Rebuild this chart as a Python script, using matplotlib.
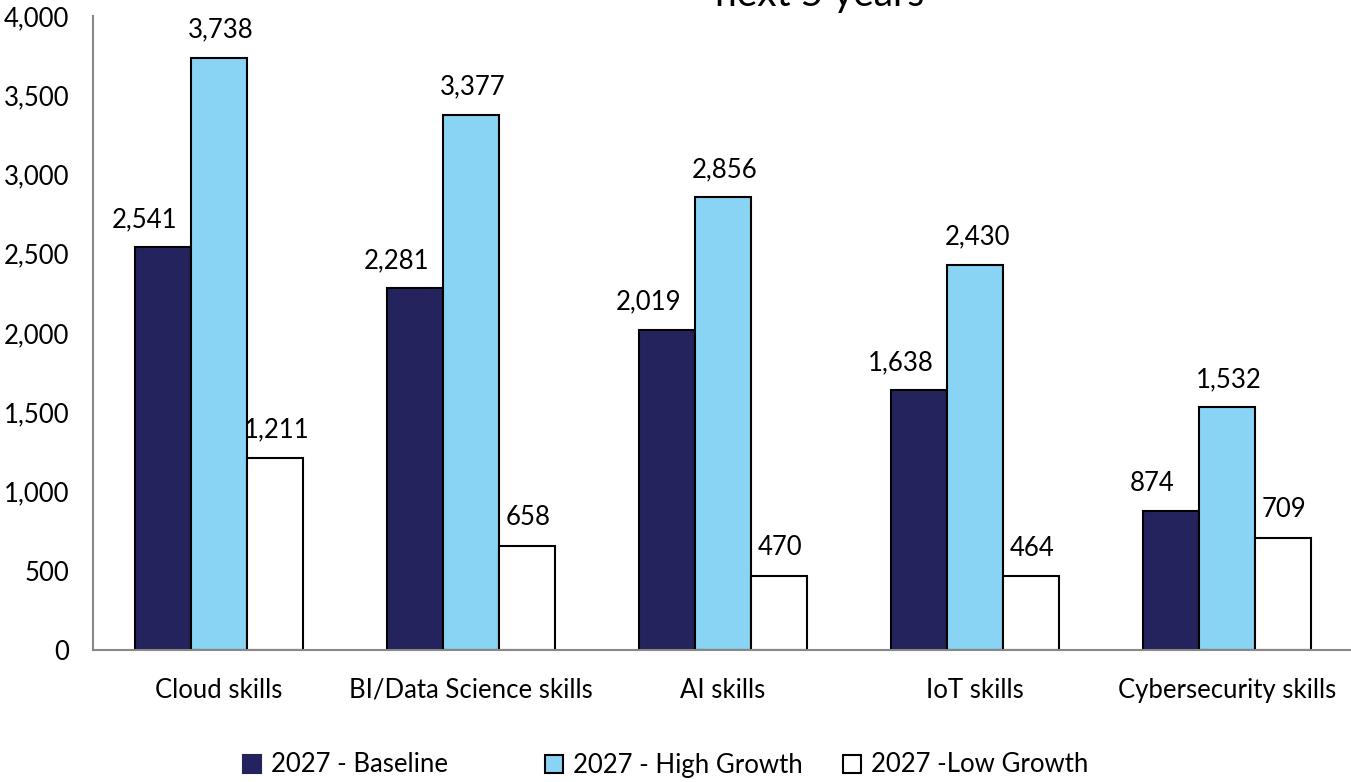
import matplotlib
matplotlib.use("Agg")
import matplotlib.pyplot as plt
import numpy as np
from matplotlib.patches import Patch

plt.rcParams['font.family'] = ['Lato', 'DejaVu Sans']

categories = ["Cloud skills", "BI/Data Science skills", "AI skills", "IoT skills", "Cybersecurity skills"]
series_names = ["2027 - Baseline", "2027 - High Growth", "2027 -Low Growth"]
baseline = [2541, 2281, 2019, 1638, 874]
high = [3738, 3377, 2856, 2430, 1532]
low = [1211, 658, 470, 464, 709]
yticks = [0, 500, 1000, 1500, 2000, 2500, 3000, 3500, 4000]
colors = ["#24235D", "#89D3F4", "#FFFFFF"]
label_dx = [-13.5, 1.5, 1.0]  # label offset in points per series

FS = 18.5
W, H = 1351, 782
fig = plt.figure(figsize=(W/100, H/100), dpi=100)
ax = fig.add_axes([93/W, 1-650/H, (1353-93)/W, (650-16)/H])

x = np.arange(len(categories))
bw = 0.222
for i, (vals, c) in enumerate(zip([baseline, high, low], colors)):
    pos = x + (i-1)*bw
    ax.bar(pos, vals, width=bw, color=c, edgecolor="black", linewidth=1.5, label=series_names[i], zorder=2)
    for px, v in zip(pos, vals):
        ax.annotate(f"{v:,}", (px, v), xytext=(label_dx[i], 11), textcoords="offset points",
                    ha="center", va="bottom", fontsize=FS)

ax.set_xlim(-0.5, len(categories)-0.5)
ax.set_ylim(0, 4000)
ax.set_yticks(yticks)
ax.set_yticklabels([f"{t:,}" for t in yticks], fontsize=FS)
ax.set_xticks(x)
ax.set_xticklabels(categories, fontsize=FS)
ax.tick_params(axis='both', length=0)
ax.tick_params(axis='y', pad=17)
ax.tick_params(axis='x', pad=20)
for s in ["top", "right"]:
    ax.spines[s].set_visible(False)
for s in ["left", "bottom"]:
    ax.spines[s].set_color("#888888")
    ax.spines[s].set_linewidth(1.5)

legend_x = [243, 545, 843]
for c, name, lx in zip(colors, series_names, legend_x):
    h = Patch(facecolor=c, edgecolor="black" if c != colors[0] else c, linewidth=1.5)
    fig.legend([h], [name], loc="center left", bbox_to_anchor=(lx/W, 1-765/H),
               frameon=False, fontsize=FS, handlelength=0.7, handleheight=0.7,
               handletextpad=0.4, borderpad=0, borderaxespad=0)

fig.text(820/W, 1-6/H, "next 5 years", ha="center", va="baseline", fontsize=28)

fig.savefig("out.png", dpi=100)
